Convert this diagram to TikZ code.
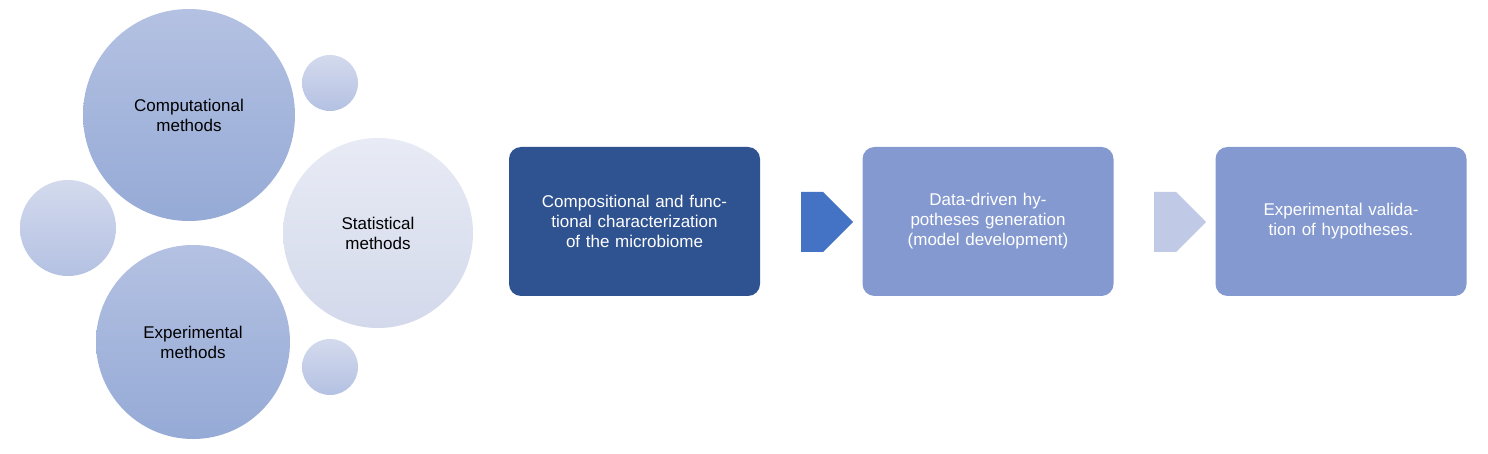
\documentclass[tikz,border=0pt]{standalone}
\usepackage{fontspec}
\setmainfont{Liberation Sans}
\usetikzlibrary{shapes.arrows}
\definecolor{cA}{HTML}{B4C1E2}\definecolor{cB}{HTML}{95AAD6}
\definecolor{sA}{HTML}{E8EBF5}\definecolor{sB}{HTML}{D3D9EB}
\definecolor{dk}{HTML}{2F5290}\definecolor{md}{HTML}{8499CF}
\definecolor{ar}{HTML}{4472C4}\definecolor{la}{HTML}{C0CAE6}
\tikzset{
 bub/.style={circle,draw=none,top color=cA,bottom color=cB,text width=130pt,align=center,font=\fontsize{17}{20}\selectfont},
 sbub/.style={circle,draw=none,top color=sA!60!cA,bottom color=cA},
 boxx/.style={rounded corners=12pt,minimum width=251pt,minimum height=149pt,text width=215pt,align=center,text=white,font=\fontsize{17}{20}\selectfont},
 arw/.style={single arrow,draw=none,minimum width=60pt,single arrow head extend=0pt,single arrow tip angle=90,minimum height=52pt,inner sep=0pt}
}
\begin{document}
\begin{tikzpicture}[x=1pt,y=-1pt]
\useasboundingbox[fill=white] (0,0) rectangle (1488,454);
\node[bub,minimum size=212pt] (comp) at (189,115) {Computational\\methods};
\node[sbub,minimum size=56pt] (s1) at (330,83) {};
\node[sbub,minimum size=96pt] (s2) at (68,228) {};
\node[bub,minimum size=190pt,top color=sA,bottom color=sB] (stat) at (378,233) {Statistical\\methods};
\node[bub,minimum size=194pt] (exp) at (193,342) {Experimental\\methods};
\node[sbub,minimum size=56pt] (s3) at (330,367) {};
\node[boxx,fill=dk] (b1) at (634.5,221.5) {Compositional and functional characterization of the microbiome};
\node[boxx,fill=md] (b2) at (988,221.5) {Data-driven hypotheses generation (model development)};
\node[boxx,fill=md] (b3) at (1341,221.5) {Experimental validation of hypotheses.};
\node[arw,fill=ar] (a1) at (812,222) {};
\node[arw,fill=la] (a2) at (1165,222) {};
\end{tikzpicture}
\end{document}
